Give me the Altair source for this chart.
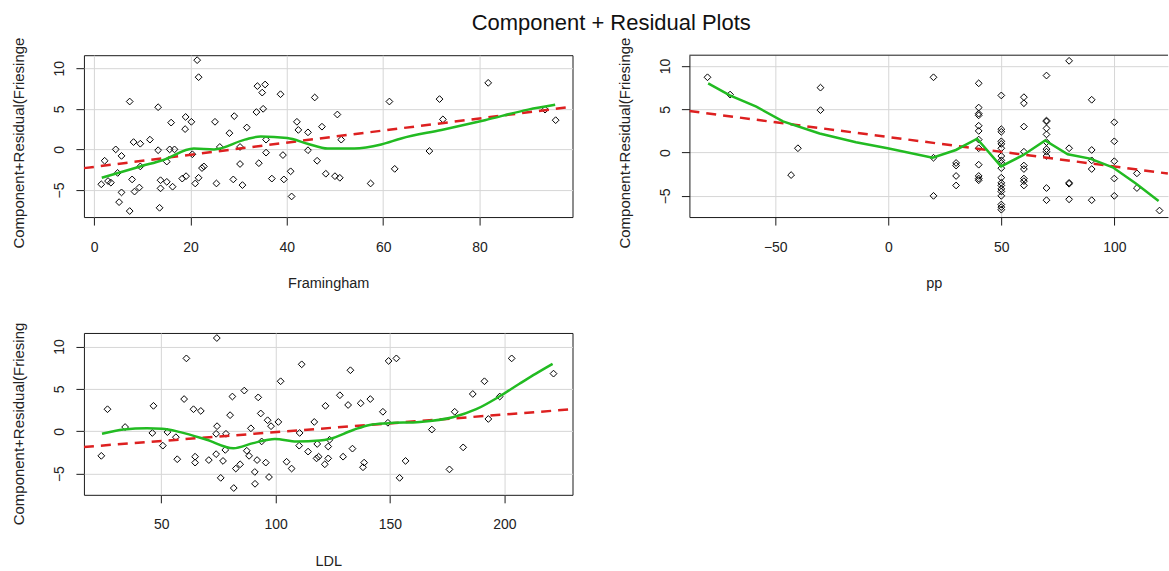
import altair as alt
import pandas as pd

FONT = "Liberation Sans"

# ---------------- Panel 1: Framingham ----------------
fram_x = [21.4, 21.7, 7.4, 13.3, 33.9, 35.5, 34.9, 38.7, 45.8, 35.1,
          33.7, 19.0, 20.2, 18.9, 16.0, 25.1, 29.1, 28.1, 31.7, 42.1,
          42.4, 47.3, 50.5, 44.4, 51.3, 44.4, 46.3, 48.1, 50.0, 51.0,
          57.4, 41.0, 40.8, 39.2, 39.4, 36.9, 35.7, 35.7, 34.2, 30.3,
          30.3, 30.8, 28.9, 26.1, 25.4, 22.8, 22.4, 21.7, 21.0, 20.4,
          19.1, 18.3, 16.7, 15.7, 15.1, 13.3, 13.8, 13.8, 15.1, 16.3,
          13.6, 11.6, 9.6, 8.2, 9.6, 7.9, 9.4, 8.4, 7.4, 5.7,
          5.2, 4.5, 5.7, 4.9, 2.2, 2.9, 3.5, 1.5,
          81.8, 61.3, 71.7, 72.4, 69.6, 62.4, 95.8, 93.6]
fram_y = [11.0, 8.9, 5.9, 5.2, 7.8, 8.0, 7.0, 6.8, 6.4, 5.0,
          4.6, 4.0, 3.4, 2.5, 3.3, 3.4, 4.1, 2.0, 2.7, 3.4,
          2.4, 2.8, 4.3, 2.1, 1.2, -0.1, -1.4, -3.0, -3.3, -3.5,
          -4.2, -5.8, -2.7, -0.7, -3.7, -3.6, -0.4, 1.2, -1.7, 0.3,
          -1.8, -4.4, -3.7, 0.3, -4.2, -2.1, -2.3, -3.5, -4.2, -0.6,
          -3.3, -3.6, 0.0, 0.0, -1.5, -0.1, -3.8, -4.8, -4.0, -4.6,
          -7.2, 1.2, 0.7, 0.9, -2.1, -3.7, -4.7, -5.2, -7.6, -5.3,
          -6.5, 0.0, -0.8, -2.9, -1.4, -3.9, -4.1, -4.3,
          8.2, 5.9, 6.2, 3.7, -0.2, -2.4, 3.6, 4.9]
fram_fit_x = [-2.1, 99.3]
fram_fit_y = [-2.31, 5.26]
fram_smooth_x = [1.6, 9.6, 14.4, 20.7, 24.9, 31.3, 34.6, 40.1, 44.3, 48.5,
                 54.0, 59.6, 63.75, 72.1, 81.1, 90.1, 95.7]
fram_smooth_y = [-3.5, -2.1, -1.3, 0.1, 0.0, 1.2, 1.6, 1.4, 0.7, 0.1,
                 0.1, 0.6, 1.35, 2.4, 3.6, 4.9, 5.5]
fram_xticks = [0, 20, 40, 60, 80]

# ---------------- Panel 2: pp ----------------
pp_x = [-80, -70, -43, -40, -30, -30,
        20, 20, 20,
        30, 30, 30, 30,
        40, 40, 40, 40, 40, 40, 40, 40, 40, 40, 40, 40,
        50, 50, 50, 50, 50, 50, 50, 50, 50, 50, 50, 50, 50, 50, 50, 50, 50, 50, 50,
        60, 60, 60, 60, 60, 60, 60, 60, 60,
        70, 70, 70, 70, 70, 70, 70, 70, 70, 70, 70,
        80, 80, 80, 80, 80,
        90, 90, 90, 90, 90,
        100, 100, 100, 100, 100,
        110, 110,
        120]
pp_y = [8.7, 6.7, -2.6, 0.5, 7.5, 4.9,
        8.7, -0.6, -5.0,
        -1.2, -1.5, -2.7, -3.8,
        8.0, 5.2, 4.5, 4.3, 3.1, 2.5, 1.5, 0.5, -1.4, -2.7, -3.0, -3.2,
        6.6, 2.7, 2.4, 1.3, 1.0, 0.5, -0.4, -0.9, -1.2, -1.8, -2.9, -3.5, -3.8, -4.2, -4.5, -5.0, -6.0, -6.3, -6.6,
        6.4, 5.7, 3.0, 0.1, -1.5, -1.9, -3.0, -3.3, -3.8,
        8.9, 3.7, 3.6, 2.8, 2.1, 1.2, 0.4, 0.1, -0.4, -4.1, -5.5,
        10.6, 0.5, -3.5, -3.6, -5.4,
        6.1, 0.3, -0.9, -1.9, -5.5,
        3.5, 1.3, -1.0, -3.0, -5.0,
        -2.4, -4.1,
        -6.7]
pp_fit_x = [-88.0, 123.7]
pp_fit_y = [4.80, -2.42]
pp_smooth_x = [-79.7, -70.1, -58.4, -46.6, -30.4, -14.3, -0.3, 19.6, 29.9, 39.3,
               49.9, 59.6, 69.4, 79.4, 89.3, 99.3, 109.7, 119.6]
pp_smooth_y = [8.0, 6.6, 5.3, 3.6, 2.2, 1.2, 0.5, -0.6, 0.3, 1.6,
               -1.6, -0.3, 1.4, -0.2, -0.7, -1.7, -3.6, -5.6]
pp_xticks = [-50, 0, 50, 100]

# ---------------- Panel 3: LDL ----------------
ldl_x = [74.3, 61.0, 111.4, 102.2, 26.5, 46.6, 60.0, 64.1, 67.3, 81.1,
         86.3, 92.4, 80.1, 93.5, 96.5, 98.0, 101.2, 116.9, 121.8, 128.1,
         34.2, 46.1, 50.7, 52.7, 56.4, 74.4, 74.0, 78.3, 89.2, 93.9,
         110.5, 23.8, 57.0, 64.8, 64.8, 70.8, 74.0, 78.0, 77.0, 76.0,
         81.7, 82.6, 84.5, 87.4, 88.4, 91.9, 90.9, 91.0, 95.7, 97.1,
         104.8, 107.0, 110.3, 114.2, 118.2, 117.9, 118.8, 121.5, 123.0, 123.0, 123.6,
         132.7, 131.7, 137.2, 141.4, 146.9, 149.4, 152.8, 149.1, 133.6, 129.5,
         138.7, 138.2, 156.8, 154.2, 168.3, 178.3, 182.0, 176.0, 186.2, 191.3,
         193.0, 198.0, 203.2, 221.5]
ldl_y = [11.0, 8.6, 7.9, 5.9, 2.6, 3.0, 3.8, 2.6, 2.4, 4.1,
         4.8, 4.0, 1.9, 2.1, 1.3, 0.6, 1.1, 1.1, 3.0, 4.25,
         0.5, -0.2, -1.7, -0.1, -0.7, 0.6, -0.3, -0.3, 0.35, -1.2,
         -0.2, -2.9, -3.3, -3.0, -3.7, -3.4, -2.7, -2.2, -3.5, -5.5,
         -6.7, -4.4, -3.9, -2.3, -2.9, -3.4, -4.8, -6.2, -3.7, -5.4,
         -3.6, -4.4, -1.7, -2.4, -1.5, -3.2, -3.0, -3.9, -3.2, -1.8, -1.0,
         7.2, 3.1, 3.3, 3.8, 2.3, 8.3, 8.6, 1.0, -2.05, -3.0,
         -3.7, -4.25, -3.5, -5.5, 0.2, 2.3, -1.9, -4.5, 4.4, 5.9,
         1.45, 4.1, 8.6, 6.8]
ldl_fit_x = [16.2, 229.8]
ldl_fit_y = [-1.85, 2.6]
ldl_smooth_x = [24.1, 33.6, 43.8, 50.3, 58.3, 69.9, 81.5, 90.2, 99.7, 109.2,
                119.3, 123.7, 133.9, 141.1, 149.1, 163.0, 177.5, 187.7, 197.8, 206.6,
                213.8, 221.1]
ldl_smooth_y = [-0.3, 0.2, 0.35, 0.3, -0.1, -1.0, -2.0, -1.4, -0.9, -1.2,
                -1.1, -0.9, 0.15, 0.75, 0.95, 1.1, 1.65, 2.6, 4.1, 5.6,
                6.8, 7.95]
ldl_xticks = [50, 100, 150, 200]

y_ticks = [-5, 0, 5, 10]
ylab_top = "Component+Residual(Friesinge"
ylab_bottom = "Component+Residual(Friesing"

PW, PH = 489, 162
PP_W = 479
BOX = "#1a1a1a"
RED = "#dd2020"
GREEN = "#22bb22"


def panel(px, py, fx, fy, sx, sy, xtitle, xdom, xticks, ydom, ylab, width,
          boxed=True, interp="monotone", title_x=None, title_y_pos=193):
    pts = pd.DataFrame({"x": px, "y": py})
    fit = pd.DataFrame({"x": fx, "y": fy})
    smo = pd.DataFrame({"x": sx, "y": sy})

    xaxis_kw = dict(values=xticks, title=xtitle, grid=True, gridColor="#d6d6d6",
                    gridWidth=1, domain=not boxed, domainColor=BOX, domainWidth=1,
                    tickSize=8, tickColor=BOX, tickWidth=1, labelPadding=15,
                    labelFont=FONT, labelFontSize=14, labelColor="#222",
                    titleFont=FONT, titleFontSize=14.5, titleFontWeight="normal",
                    titleColor="#222", titleY=60, titleBaseline="top")
    if title_x is not None:
        xaxis_kw["titleX"] = title_x
    xaxis = alt.Axis(**xaxis_kw)
    yaxis = alt.Axis(values=y_ticks, title=ylab, grid=True, gridColor="#d6d6d6",
                     gridWidth=1, domain=not boxed, domainColor=BOX, domainWidth=1,
                     tickSize=8, tickColor=BOX, tickWidth=1, labelPadding=9,
                     labelAngle=-90, labelAlign="center", labelBaseline="bottom",
                     labelFont=FONT, labelFontSize=14, labelColor="#222",
                     titleFont=FONT, titleFontSize=15, titleFontWeight="normal",
                     titleColor="#222", titleAngle=-90, titleAlign="left",
                     titleBaseline="middle", titleX=-65, titleY=title_y_pos)
    xs = alt.Scale(domain=xdom, nice=False, zero=False)
    ys = alt.Scale(domain=ydom, nice=False, zero=False)
    X = alt.X("x:Q", scale=xs, axis=xaxis)
    Y = alt.Y("y:Q", scale=ys, axis=yaxis)

    points = alt.Chart(pts).mark_point(shape="diamond", filled=False, size=46,
                                       color="black", strokeWidth=1,
                                       opacity=1).encode(x=X, y=Y)
    fitl = alt.Chart(fit).mark_line(color=RED, strokeWidth=2.5,
                                    strokeDash=[10, 7], clip=True).encode(x=X, y=Y)
    smol = alt.Chart(smo).mark_line(color=GREEN, strokeWidth=2.5,
                                    interpolate=interp, clip=True).encode(x=X, y=Y)
    layers = [points, fitl, smol]
    if not boxed:
        top = alt.Chart(pd.DataFrame({"a": [0]})).mark_rule(
            color=BOX, strokeWidth=1).encode(x=alt.value(0), x2=alt.value(width),
                                             y=alt.value(0))
        layers.append(top)
    view = alt.ViewBackground(stroke=BOX if boxed else "transparent", strokeWidth=1)
    return alt.layer(*layers).properties(width=width, height=PH, view=view)


p1 = panel(fram_x, fram_y, fram_fit_x, fram_fit_y, fram_smooth_x, fram_smooth_y,
           "Framingham", [-2.1, 99.3], fram_xticks, [-8.34, 11.61], ylab_top, PW)
p2 = panel(pp_x, pp_y, pp_fit_x, pp_fit_y, pp_smooth_x, pp_smooth_y,
           "pp", [-88.0, -88.0 + PP_W / 2.262], pp_xticks, [-7.45, 11.25], ylab_top,
           PP_W, boxed=False, interp="linear", title_x=244.5)
p3 = panel(ldl_x, ldl_y, ldl_fit_x, ldl_fit_y, ldl_smooth_x, ldl_smooth_y,
           "LDL", [16.2, 229.8], ldl_xticks, [-7.5, 11.6], ylab_bottom, PW,
           title_y_pos=192)

top_row = alt.hconcat(p1, p2, spacing=43)
chart = alt.vconcat(top_row, p3, spacing=30).properties(
    title=alt.TitleParams("Component + Residual Plots", font=FONT, fontSize=22,
                          fontWeight="normal", color="#111", anchor="middle",
                          dx=21, baseline="alphabetic", offset=-16),
    padding={"left": 11, "top": 12, "right": 0, "bottom": 0},
)

chart.save("out.html", embed_options={"renderer": "svg", "actions": False})
